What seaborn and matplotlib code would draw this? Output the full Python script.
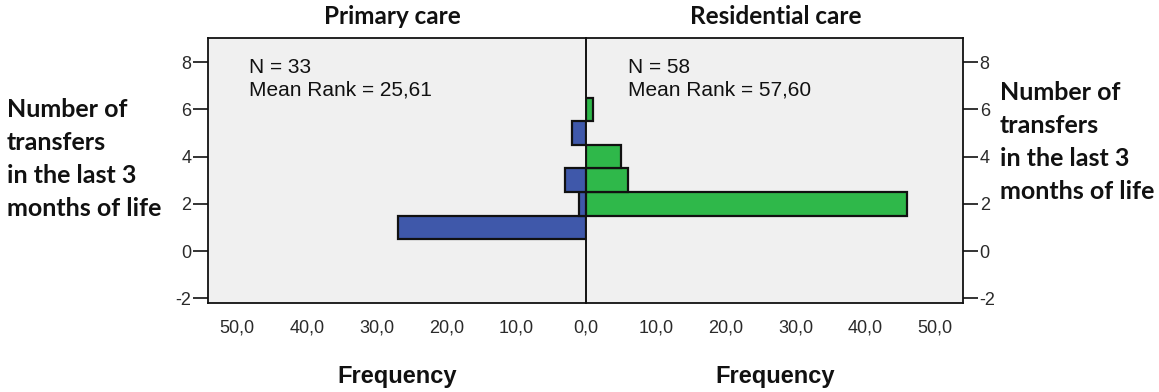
import matplotlib
matplotlib.use("Agg")
import matplotlib.pyplot as plt
import seaborn as sns
import pandas as pd

# Data
bins = [1, 2, 3, 4, 5, 6]
primary_counts = [27, 1, 3, 0, 2, 0]
residential_counts = [0, 46, 6, 5, 0, 1]
groups = ["Primary care", "Residential care"]
n_values = [33, 58]
mean_ranks = ["25,61", "57,60"]
x_ticks = [0, 10, 20, 30, 40, 50]
y_ticks = [-2, 0, 2, 4, 6, 8]

sns.set_theme(style="white")
plt.rcParams['font.family'] = ['Liberation Sans', 'DejaVu Sans']

W, H = 1159, 392
fig = plt.figure(figsize=(W / 100, H / 100), dpi=100)

def rect(x0, y0, x1, y1):
    return [x0 / W, 1 - y1 / H, (x1 - x0) / W, (y1 - y0) / H]

axL = fig.add_axes(rect(208, 38, 586, 303))
axR = fig.add_axes(rect(586, 38, 963, 303))

blue = "#3F58AA"
green = "#2FB84A"
bg = "#F0F0F0"
tick_color = "#2a2a2a"

dfL = pd.DataFrame({"bin": bins, "count": primary_counts})
dfL = dfL[dfL["count"] > 0]
dfR = pd.DataFrame({"bin": bins, "count": residential_counts})
dfR = dfR[dfR["count"] > 0]

for ax, df, col in [(axL, dfL, blue), (axR, dfR, green)]:
    sns.barplot(data=df, x="count", y="bin", orient="h", native_scale=True,
                color=col, saturation=1, width=1.0, edgecolor="#111111",
                linewidth=1.6, ax=ax, errorbar=None)
    ax.set_facecolor(bg)
    ax.set_ylim(-2.2, 9.02)
    ax.set_xlabel("")
    ax.set_ylabel("")
    ax.set_yticks(y_ticks)
    ax.set_yticklabels([str(v) for v in y_ticks])
    for s in ax.spines.values():
        s.set_color("#111111")
        s.set_linewidth(1.3)
    ax.tick_params(axis="both", direction="out", length=11, width=1.2,
                   color="#111111", labelcolor=tick_color, labelsize=13, pad=2)

axL.set_xlim(54.2, 0)
axL.set_xticks(x_ticks)
axL.set_xticklabels([f"{v},0" for v in x_ticks])
axL.yaxis.set_ticks_position("left")
axL.spines["right"].set_visible(False)

axR.set_xlim(0, 54)
axR.set_xticks(x_ticks[1:])
axR.set_xticklabels([f"{v},0" for v in x_ticks[1:]])
axR.yaxis.set_ticks_position("right")
axR.spines["left"].set_visible(False)
axR.axvline(0, color="#111111", linewidth=1.4, zorder=5, clip_on=False)

for ax in (axL, axR):
    ax.tick_params(axis="x", pad=1)
    ax.tick_params(axis="y", pad=1)

# Annotations
txt_kw = dict(fontsize=15, color="#111111", va="top", ha="left", linespacing=1.2)
fig.text(249 / W, 1 - 58 / H, f"N = {n_values[0]}\nMean Rank = {mean_ranks[0]}", **txt_kw)
fig.text(628 / W, 1 - 58 / H, f"N = {n_values[1]}\nMean Rank = {mean_ranks[1]}", **txt_kw)

title_kw = dict(fontsize=17.5, fontweight="bold", color="#111111", ha="center",
                va="center", family=["Lato", "DejaVu Sans"])
fig.text(392 / W, 1 - 16 / H, groups[0], **title_kw)
fig.text(776 / W, 1 - 16 / H, groups[1], **title_kw)

freq_kw = dict(fontsize=17, fontweight="bold", color="#111111", ha="center",
               va="center", family=["Liberation Sans", "DejaVu Sans"])
fig.text(397 / W, 1 - 377 / H, "Frequency", **freq_kw)
fig.text(775 / W, 1 - 377 / H, "Frequency", **freq_kw)

ylab = "Number of\ntransfers\nin the last 3\nmonths of life"
ylab_kw = dict(fontsize=18, fontweight="bold", color="#111111", ha="left", va="top",
               linespacing=1.52, family=["Lato", "DejaVu Sans"])
fig.text(7 / W, 1 - 98 / H, ylab, **ylab_kw)
fig.text(1000 / W, 1 - 81 / H, ylab, **ylab_kw)

fig.savefig("out.png", dpi=100, facecolor="white")
